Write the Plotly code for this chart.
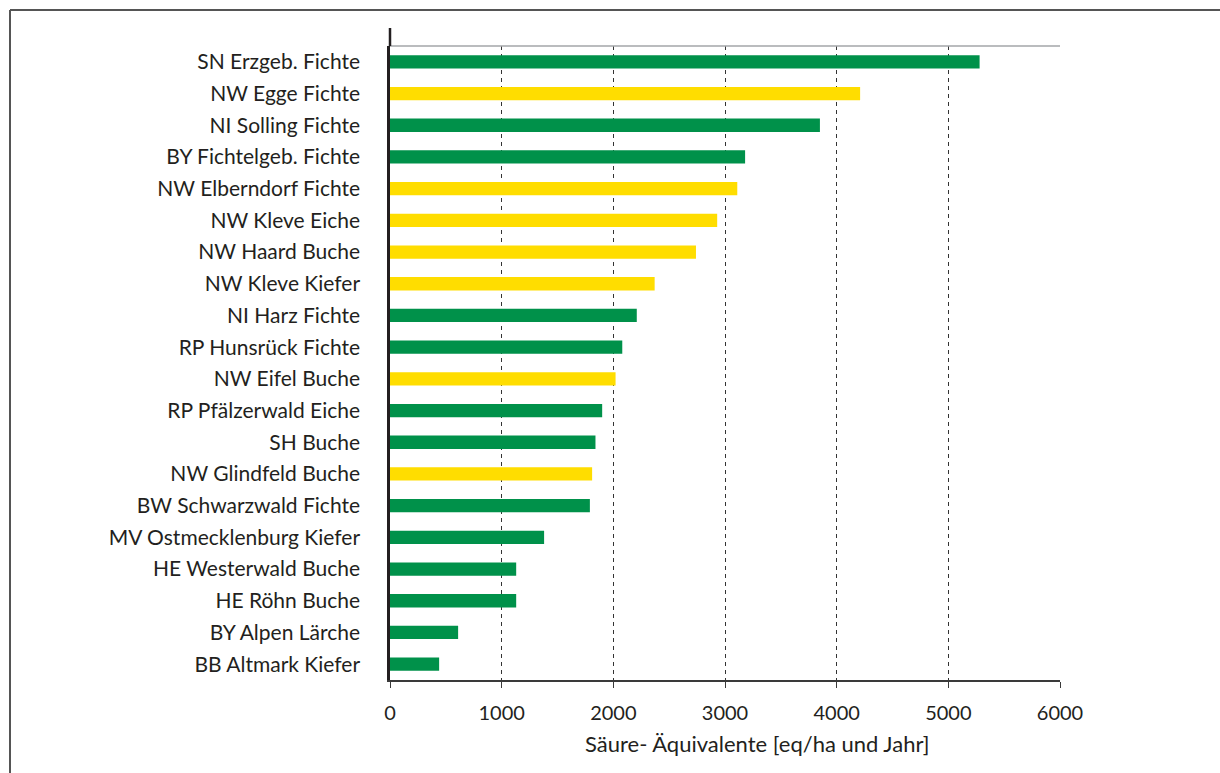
import plotly.graph_objects as go

# Forest monitoring plots, top to bottom
sites = [
    "SN Erzgeb. Fichte", "NW Egge Fichte", "NI Solling Fichte", "BY Fichtelgeb. Fichte",
    "NW Elberndorf Fichte", "NW Kleve Eiche", "NW Haard Buche", "NW Kleve Kiefer",
    "NI Harz Fichte", "RP Hunsrück Fichte", "NW Eifel Buche", "RP Pfälzerwald Eiche",
    "SH Buche", "NW Glindfeld Buche", "BW Schwarzwald Fichte", "MV Ostmecklenburg Kiefer",
    "HE Westerwald Buche", "HE Röhn Buche", "BY Alpen Lärche", "BB Altmark Kiefer",
]
# acid equivalents, eq/ha per year
acid_eq = [
    5280, 4210, 3850, 3180,
    3110, 2930, 2740, 2370,
    2210, 2080, 2020, 1900,
    1840, 1810, 1790, 1380,
    1130, 1130, 610, 440,
]
# "NW" = Nordrhein-Westfalen plots (highlighted), "other" = remaining states
group = [
    "other", "NW", "other", "other",
    "NW", "NW", "NW", "NW",
    "other", "other", "NW", "other",
    "other", "NW", "other", "other",
    "other", "other", "other", "other",
]
x_ticks = [0, 1000, 2000, 3000, 4000, 5000, 6000]
x_title = "Säure- Äquivalente [eq/ha und Jahr]"

GREEN = "#00914a"
YELLOW = "#ffdd00"
TEXT = "#231f20"
FONT = "Lato"

colors = [YELLOW if g == "NW" else GREEN for g in group]

fig = go.Figure(
    go.Bar(
        x=acid_eq,
        y=sites,
        orientation="h",
        marker=dict(color=colors, line=dict(width=0)),
        width=0.42,
        hoverinfo="x+y",
    )
)

W, H = 1220, 773
L, R, T, B = 390, 160, 46, 93
pw, ph = W - L - R, H - T - B


def px_x(p):
    return (p - L) / pw


def px_y(p):
    return (H - B - p) / ph


fig.update_layout(
    width=W,
    height=H,
    margin=dict(l=L, r=R, t=T, b=B, pad=0),
    paper_bgcolor="white",
    plot_bgcolor="white",
    showlegend=False,
    font=dict(family=FONT, size=21, color=TEXT),
    xaxis=dict(
        range=[0, 6000],
        tickvals=x_ticks,
        ticktext=[str(v) for v in x_ticks],
        showgrid=True,
        gridcolor="#333333",
        gridwidth=1,
        griddash="4px,4px",
        zeroline=False,
        showline=True,
        linecolor="#3a3a3a",
        linewidth=1.5,
        ticks="outside",
        ticklen=6,
        tickwidth=1,
        tickcolor="#3a3a3a",
        ticklabelstandoff=8,
        tickfont=dict(size=20, color=TEXT),
        fixedrange=True,
    ),
    yaxis=dict(
        categoryorder="array",
        categoryarray=sites,
        autorange="reversed",
        showgrid=False,
        zeroline=False,
        showline=True,
        linecolor="#231f20",
        linewidth=2.5,
        ticks="",
        ticklabelstandoff=23,
        tickfont=dict(size=21, color=TEXT),
        fixedrange=True,
    ),
    annotations=[
        # value-axis title, set slightly right of the plot centre
        dict(text=x_title, xref="paper", yref="paper", x=px_x(757), y=px_y(743),
             xanchor="center", yanchor="middle", showarrow=False,
             font=dict(family=FONT, size=22, color=TEXT)),
    ],
    shapes=[
        # light grey top border of plotting area
        dict(type="line", xref="paper", yref="paper", x0=0, x1=1, y0=1, y1=1,
             line=dict(color="#a3a6a9", width=1.5)),
        # value axis extends a little above the plotting area
        dict(type="line", xref="paper", yref="paper", x0=0, x1=0, y0=1, y1=px_y(28),
             line=dict(color="#231f20", width=2.5)),
        # outer frame (left and top edges)
        dict(type="line", xref="paper", yref="paper", x0=px_x(10), x1=px_x(10),
             y0=px_y(10), y1=px_y(790), line=dict(color="#555555", width=2)),
        dict(type="line", xref="paper", yref="paper", x0=px_x(10), x1=px_x(1240),
             y0=px_y(10), y1=px_y(10), line=dict(color="#555555", width=2)),
    ],
)

fig.write_html("out.html")
